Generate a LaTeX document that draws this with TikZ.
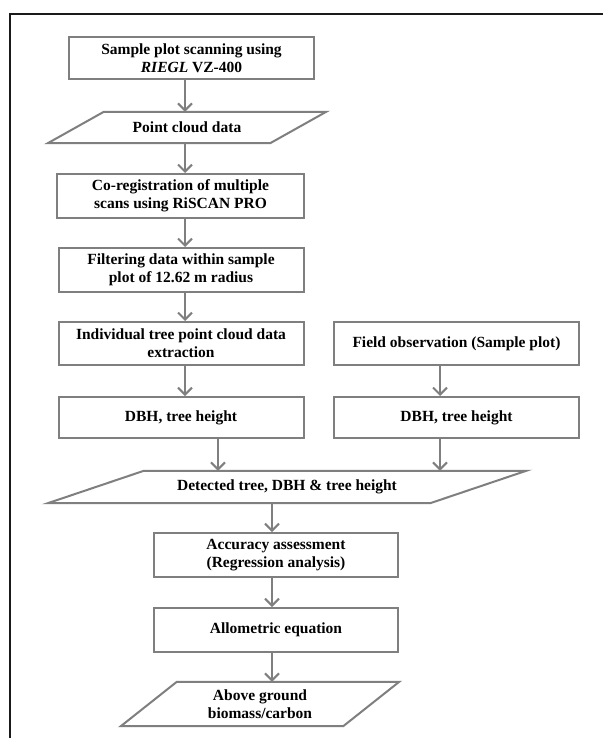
\documentclass[tikz,border=0pt]{standalone}
\usepackage{fontspec}
\setmainfont{Liberation Serif}
\usetikzlibrary{arrows.meta,calc}
\definecolor{boxgray}{HTML}{7F7F7F}
\definecolor{framec}{HTML}{1A1A1A}
\tikzset{
  txt/.style={font=\fontsize{15.5}{18}\selectfont\bfseries, align=center, inner sep=0pt},
  procbox/.style={txt, rectangle, draw=boxgray, line width=2pt, minimum width=245pt, minimum height=43pt},
  parabox/.style={txt, rectangle, draw=none},
  paraline/.style={draw=boxgray, line width=2pt, line join=miter},
  arr/.style={draw=boxgray, line width=2pt, -{Straight Barb[length=7pt,width=14pt,line width=2pt]}},
  framel/.style={draw=framec, line width=2pt}
}
\begin{document}
\begin{tikzpicture}[x=1pt,y=-1pt]
\useasboundingbox[fill=white] (0,0) rectangle (602,738);
% outer frame (only top and left edges visible)
\draw[framel] (606,14) -| (10,742);

% column coordinates
\coordinate (xa) at (185,0);
\coordinate (xb) at (218,0);
\coordinate (xc) at (440,0);
\coordinate (xd) at (272,0);

% process boxes
\node[procbox, minimum height=42pt] (b1) at (191.5,58) {Sample plot scanning using\\\textit{RIEGL} VZ-400};
\node[parabox, minimum width=278pt, minimum height=31pt] (p1) at (187,127.5) {Point cloud data};
\node[procbox, minimum width=247pt, minimum height=44pt] (b3) at (180.5,196) {Co-registration of multiple\\scans using RiSCAN PRO};
\node[procbox, minimum height=44pt] (b4) at (181,270) {Filtering data within sample\\plot of 12.62 m radius};
\node[procbox] (b5) at (181,343.5) {Individual tree point cloud data\\extraction};
\node[procbox] (f1) at (456.5,343.5) {Field observation (Sample plot)};
\node[procbox, minimum height=41pt] (b6) at (181,417.5) {DBH, tree height};
\node[procbox, minimum height=41pt] (b7) at (456.5,417.5) {DBH, tree height};
\node[parabox, minimum width=478pt, minimum height=32pt] (p2) at (287,487) {Detected tree, DBH \& tree height};
\node[procbox, minimum width=244pt, minimum height=44pt] (b8) at (276,555) {Accuracy assessment\\(Regression analysis)};
\node[procbox, minimum width=244pt, minimum height=44pt] (b9) at (276,630) {Allometric equation};
\node[parabox, minimum width=278pt, minimum height=44pt] (p3) at (260,704) {Above ground\\biomass/carbon};

% parallelogram outlines
\draw[paraline] (p1.south west) -- ($(p1.north west)+(56,0)$) -- (p1.north east) -- ($(p1.south east)-(56,0)$) -- cycle;
\draw[paraline] (p2.south west) -- ($(p2.north west)+(96,0)$) -- (p2.north east) -- ($(p2.south east)-(96,0)$) -- cycle;
\draw[paraline] (p3.south west) -- ($(p3.north west)+(56,0)$) -- (p3.north east) -- ($(p3.south east)-(56,0)$) -- cycle;

% connectors
\draw[arr] (b1.south -| xa) -- (p1.north -| xa);
\draw[arr] (p1.south -| xa) -- (b3.north -| xa);
\draw[arr] (b3.south -| xa) -- (b4.north -| xa);
\draw[arr] (b4.south -| xa) -- (b5.north -| xa);
\draw[arr] (b5.south -| xa) -- (b6.north -| xa);
\draw[arr] (f1.south -| xc) -- (b7.north -| xc);
\draw[arr] (b6.south -| xb) -- (p2.north -| xb);
\draw[arr] (b7.south -| xc) -- (p2.north -| xc);
\draw[arr] (p2.south -| xd) -- (b8.north -| xd);
\draw[arr] (b8.south -| xd) -- (b9.north -| xd);
\draw[arr] (b9.south -| xd) -- (p3.north -| xd);
\end{tikzpicture}
\end{document}
